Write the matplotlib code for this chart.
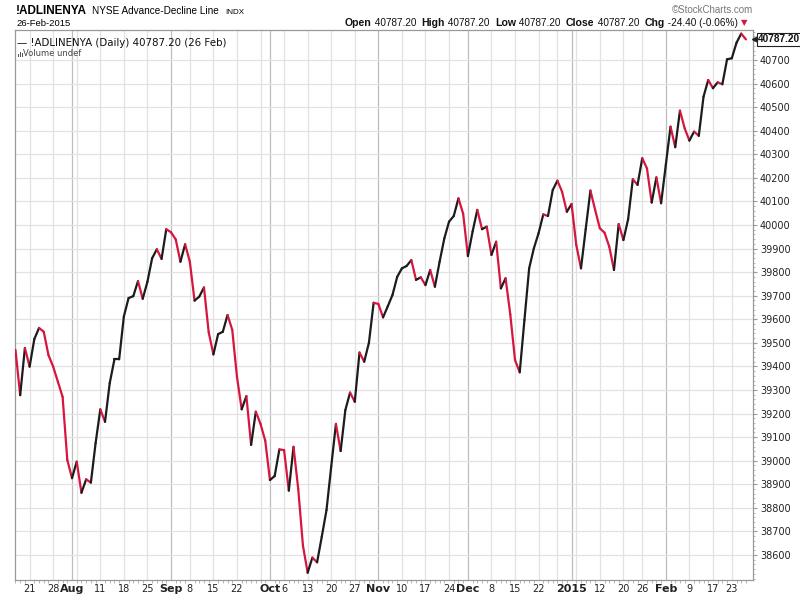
import numpy as np
import pandas as pd
import matplotlib
matplotlib.use("Agg")
import matplotlib.pyplot as plt
from matplotlib.collections import LineCollection
from matplotlib.patches import Rectangle
from matplotlib import transforms

# NYSE holidays inside the window
holidays = ["2014-09-01", "2014-11-27", "2014-12-25", "2015-01-01",
            "2015-01-19", "2015-02-16"]
dates = pd.bdate_range("2014-07-16", "2015-02-26", freq="C", holidays=holidays)

# closing values of the AD line
values = [
    39470, 39278, 39478, 39399, 39516, 39563, 39547, 39448, 39399, 39335,
    39271, 39003, 38926, 38996, 38864, 38921, 38907, 39074, 39218, 39165,
    39329, 39430, 39430, 39612, 39690, 39698, 39762, 39687, 39759, 39859,
    39897, 39856, 39982, 39969, 39939, 39844, 39918, 39844, 39679, 39696,
    39735, 39545, 39451, 39537, 39547, 39618, 39555, 39356, 39218, 39274,
    39067, 39208, 39156, 39085, 38918, 38935, 39048, 39045, 38873, 39059,
    38880, 38640, 38525, 38589, 38569, 38678, 38791, 38975, 39156, 39041,
    39215, 39289, 39250, 39459, 39420, 39500, 39670, 39665, 39608, 39655,
    39703, 39780, 39816, 39826, 39851, 39767, 39778, 39745, 39809, 39738,
    39844, 39943, 40014, 40038, 40113, 40047, 39868, 39972, 40064, 39982,
    39993, 39873, 39929, 39731, 39774, 39620, 39427, 39375, 39597, 39816,
    39901, 39965, 40045, 40038, 40148, 40188, 40140, 40056, 40089, 39915,
    39816, 39982, 40146, 40064, 39986, 39967, 39908, 39809, 40004, 39936,
    40024, 40194, 40170, 40283, 40240, 40095, 40202, 40092, 40255, 40417,
    40330, 40485, 40410, 40358, 40396, 40378, 40544, 40615, 40580, 40605,
    40597, 40703, 40707, 40773, 40811.6, 40787.2,
]
y_ticks = list(range(38600, 40800, 100))

UP = "#1c1c1c"
DOWN = "#d6163f"

n = min(len(dates), len(values))
dates = dates[:n]
vals = np.array(values[:n], dtype=float)
xs = np.arange(n)

fig = plt.figure(figsize=(8, 5.96), dpi=100)
ax = fig.add_axes([15 / 800, 16 / 596, 738 / 800, 550 / 596])

# weekly / monthly tick positions
week_pos, month_pos = [], []
for i in range(1, n):
    if dates[i].isocalendar()[1] != dates[i - 1].isocalendar()[1]:
        week_pos.append(i)
    if dates[i].month != dates[i - 1].month:
        month_pos.append(i)

for p in week_pos:
    if p not in month_pos:
        ax.axvline(p, color="#e2e2e2", lw=0.9, zorder=0)
for p in month_pos:
    ax.axvline(p, color="#bdbdbd", lw=0.9, zorder=0)
for v in y_ticks:
    ax.axhline(v, color="#e2e2e2", lw=0.9, zorder=0)

# line coloured by direction
pts = np.column_stack([xs, vals])
segs = np.stack([pts[:-1], pts[1:]], axis=1)
cols = [UP if d >= 0 else DOWN for d in np.diff(vals)]
lc = LineCollection(segs, colors=cols, linewidths=1.6, capstyle="round",
                    joinstyle="round", zorder=3)
ax.add_collection(lc)

ax.set_xlim(-0.1, n + 0.5)
ax.set_ylim(38494, 40827)

# x tick labels: month names at month starts, day numbers at week starts
tick_pos, tick_lab, tick_bold = [], [], []
for p in month_pos:
    d = dates[p]
    tick_pos.append(p)
    tick_lab.append(str(d.year) if d.month == 1 else d.strftime("%b"))
    tick_bold.append(True)
for p in week_pos:
    if any(-3 <= p - m <= 2 for m in month_pos):
        continue
    tick_pos.append(p)
    tick_lab.append(str(dates[p].day))
    tick_bold.append(False)
order = np.argsort(tick_pos)
tick_pos = [tick_pos[k] for k in order]
tick_lab = [tick_lab[k] for k in order]
tick_bold = [tick_bold[k] for k in order]

ax.set_xticks(tick_pos)
ax.set_xticklabels(tick_lab, fontsize=7, color="#222222")
for t, b in zip(ax.get_xticklabels(), tick_bold):
    if b:
        t.set_fontweight("bold")
        t.set_fontsize(8)
ax.set_xticks(xs, minor=True)
ax.tick_params(axis="x", which="major", length=0, pad=3)
ax.tick_params(axis="x", which="minor", length=2, color="#aaaaaa", width=0.6)

ax.yaxis.tick_right()
ax.set_yticks(y_ticks)
ax.set_yticklabels([str(v) for v in y_ticks], fontsize=7, color="#222222")
ax.set_yticks(np.arange(38500, 40830, 20), minor=True)
ax.tick_params(axis="y", which="major", length=3, color="#999999", pad=2)
ax.tick_params(axis="y", which="minor", length=1.5, color="#aaaaaa", width=0.6)

for s in ax.spines.values():
    s.set_color("#999999")
    s.set_linewidth(0.9)

# last price tag
last = vals[-1]
tr = transforms.blended_transform_factory(ax.transAxes, ax.transData)
ax.text(1.007, last, f"{last:.2f}", transform=tr, fontsize=7.2, fontweight="bold",
        family="Liberation Sans", va="center", ha="left", color="#111111",
        clip_on=False, zorder=6,
        bbox=dict(boxstyle="square,pad=0.12", fc="white", ec="#222222", lw=0.8))
ax.plot([1.003], [last], marker="<", ms=4, color="#222222", transform=tr,
        clip_on=False, zorder=5)

# legend text inside plot
ax.text(0.003, 0.985, "\u2014 !ADLINENYA (Daily) 40787.20 (26 Feb)",
        transform=ax.transAxes, fontsize=7.4, va="top", ha="left", color="#111111")
for k, h in enumerate([3, 5, 4]):
    ax.add_patch(Rectangle((0.0045 + k * 0.0022, 0.9515), 0.0014, h * 0.0018,
                           transform=ax.transAxes, color="#555555", lw=0))
ax.text(0.0115, 0.966, "Volume undef", transform=ax.transAxes, fontsize=6,
        va="top", ha="left", color="#444444")

# header
def px(x, y):
    return x / 800, 1 - y / 596

fig.text(*px(16, 14.5), "!ADLINENYA", fontsize=8.5, fontweight="bold",
         family="Liberation Sans", va="baseline")
fig.text(*px(92, 14.5), "NYSE Advance-Decline Line", fontsize=7.2,
         family="Liberation Sans", va="baseline")
fig.text(*px(225, 14.5), "INDX", fontsize=5.8, family="Liberation Sans",
         va="baseline")
fig.text(*px(16, 25.5), "26-Feb-2015", fontsize=6.8, family="Liberation Sans",
         va="baseline")
fig.text(*px(753, 13), "\u00a9StockCharts.com", fontsize=7, color="#777777",
         family="Liberation Sans", va="baseline", ha="right")

parts = [("Open", True), (" 40787.20  ", False), ("High", True),
         (" 40787.20  ", False), ("Low", True), (" 40787.20  ", False),
         ("Close", True), (" 40787.20  ", False), ("Chg", True),
         (" -24.40 (-0.06%) ", False)]
prev = None
for txt, bold in parts:
    kw = dict(fontsize=7.6 if bold else 7.2, family="Liberation Sans",
              fontweight="bold" if bold else "normal", color="#111111")
    if prev is None:
        prev = fig.text(*px(345, 25.5), txt, va="baseline", **kw)
    else:
        prev = ax.annotate(txt, xy=(1, 0), xycoords=prev, va="bottom",
                           annotation_clip=False, **kw)
ax.annotate("\u25bc", xy=(1, 0), xycoords=prev, va="bottom", fontsize=6,
            color=DOWN, annotation_clip=False)

fig.savefig("out.png", dpi=100)
